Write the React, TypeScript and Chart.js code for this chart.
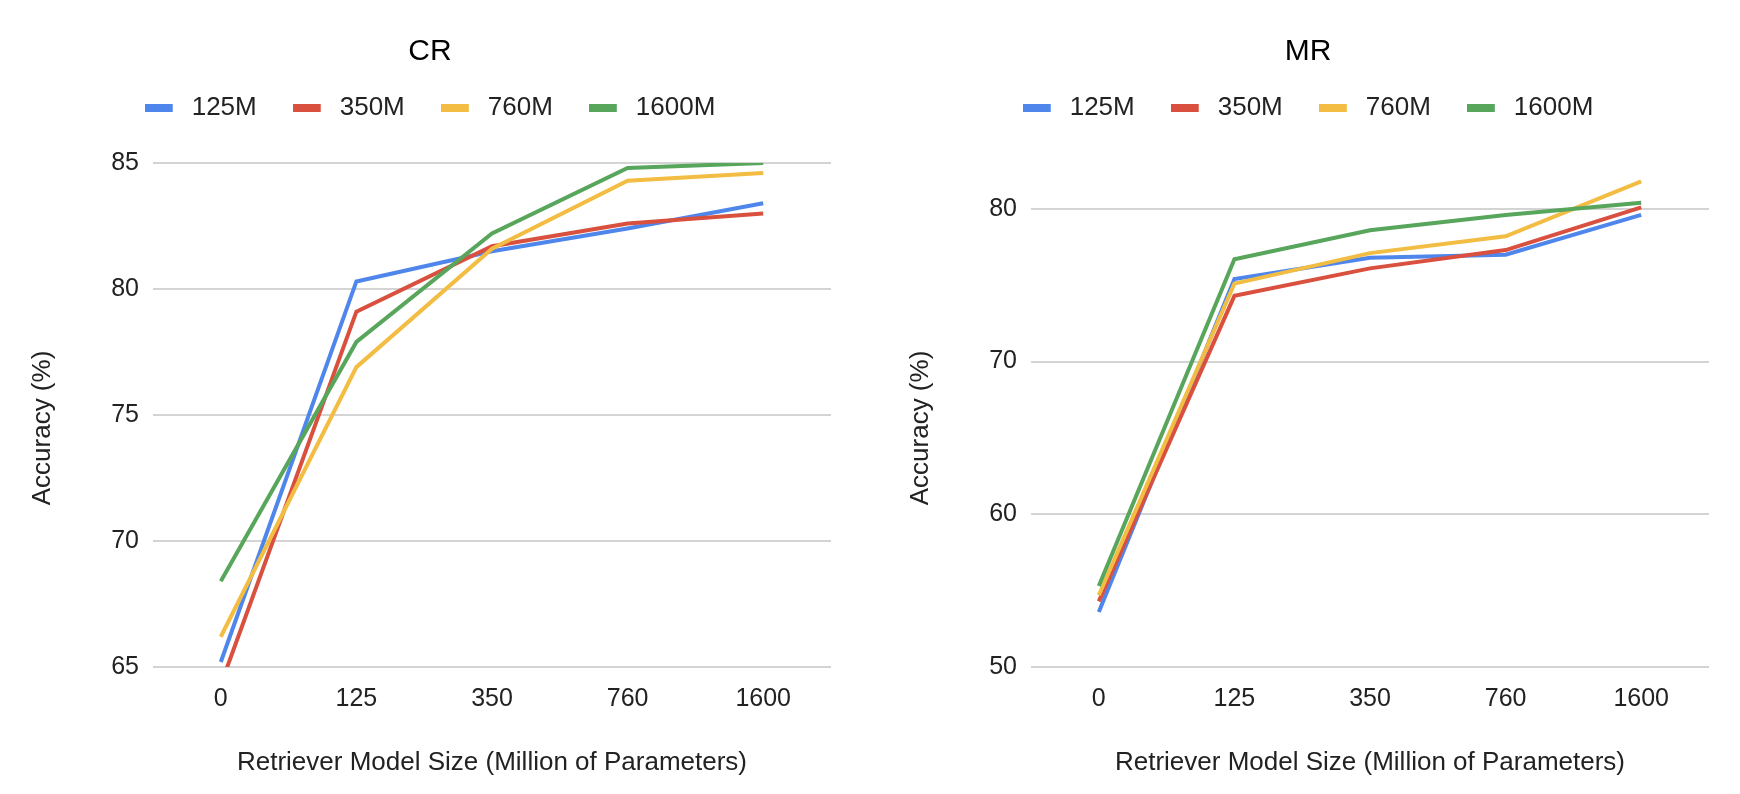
import { useEffect, useRef } from 'react';
import { Chart, registerables } from 'chart.js';
import type { Plugin } from 'chart.js';

Chart.register(...registerables);

const FONT = '"Liberation Sans", Arial, sans-serif';

const categories = ['0', '125', '350', '760', '1600'];
const seriesNames = ['125M', '350M', '760M', '1600M'];
const seriesColors = ['#4f86ec', '#d9503f', '#f2bd42', '#58a55c'];

// CR accuracy per retriever size, one array per LM size
const cr125 = [65.2, 80.3, 81.5, 82.4, 83.4];
const cr350 = [64.3, 79.1, 81.7, 82.6, 83.0];
const cr760 = [66.2, 76.9, 81.6, 84.3, 84.6];
const cr1600 = [68.4, 77.9, 82.2, 84.8, 85.0];

// MR accuracy
const mr125 = [53.6, 75.4, 76.8, 77.0, 79.6];
const mr350 = [54.3, 74.3, 76.1, 77.3, 80.1];
const mr760 = [54.7, 75.1, 77.1, 78.2, 81.8];
const mr1600 = [55.3, 76.7, 78.6, 79.6, 80.4];

const Y_TITLE = 'Accuracy (%)';

// legend swatch: a flat bar with some empty room on its right,
// so the label sits a bit further from the colour like in Google Charts
function legendSwatch(color: string): HTMLCanvasElement {
  const c = document.createElement('canvas');
  c.width = 34;
  c.height = 8;
  const ctx = c.getContext('2d')!;
  ctx.fillStyle = color;
  ctx.fillRect(0, 0, 28, 8);
  return c;
}

// Google puts the vertical axis title a little below the plot's middle,
// Chart.js would centre it, so it is drawn here instead.
const yTitlePlugin: Plugin<'line'> = {
  id: 'yTitle',
  afterDraw(chart) {
    const { ctx, chartArea } = chart;
    ctx.save();
    ctx.translate(43, (chartArea.top + chartArea.bottom) / 2 + 13);
    ctx.rotate(-Math.PI / 2);
    ctx.font = `26px ${FONT}`;
    ctx.fillStyle = '#222';
    ctx.textAlign = 'center';
    ctx.textBaseline = 'middle';
    ctx.fillText(Y_TITLE, 0, 0);
    ctx.restore();
  },
};

interface AccuracyChartProps {
  title: string;
  series: number[][];
  yMin: number;
  yMax: number;
  yStep: number;
}

function AccuracyChart({ title, series, yMin, yMax, yStep }: AccuracyChartProps) {
  const canvasRef = useRef<HTMLCanvasElement>(null);

  useEffect(() => {
    if (!canvasRef.current) return;
    const swatches = seriesColors.map(legendSwatch);
    const chart = new Chart(canvasRef.current, {
      type: 'line',
      data: {
        labels: categories,
        datasets: series.map((values, i) => ({
          label: seriesNames[i],
          data: values,
          borderColor: seriesColors[i],
          backgroundColor: seriesColors[i],
          borderWidth: 4,
          pointRadius: 0,
          tension: 0,
          // later series on top, like the original
          order: series.length - i,
        })),
      },
      plugins: [yTitlePlugin],
      options: {
        animation: false,
        responsive: true,
        maintainAspectRatio: false,
        events: [],
        layout: { padding: { left: 29, right: 31, top: 0, bottom: 0 } },
        plugins: {
          title: {
            display: true,
            text: title,
            color: '#000',
            font: { family: FONT, size: 30, weight: 'normal' },
            padding: { top: 34, bottom: -11 },
          },
          legend: {
            position: 'top',
            labels: {
              usePointStyle: true,
              pointStyleWidth: 34,
              boxHeight: 8,
              padding: 36,
              color: '#222',
              font: { family: FONT, size: 26 },
              generateLabels: (c: Chart) =>
                Chart.defaults.plugins.legend.labels.generateLabels(c).map((item) => ({
                  ...item,
                  lineWidth: 0,
                  pointStyle: swatches[item.datasetIndex ?? 0],
                })),
              sort: (a, b) => (a.datasetIndex ?? 0) - (b.datasetIndex ?? 0),
            },
          },
          tooltip: { enabled: false },
        },
        scales: {
          x: {
            offset: true,
            grid: { display: false },
            border: { display: false },
            ticks: { color: '#222', font: { family: FONT, size: 25 }, padding: 9 },
            title: {
              display: true,
              text: 'Retriever Model Size (Million of Parameters)',
              color: '#222',
              font: { family: FONT, size: 26 },
              padding: { top: 0, bottom: 16 },
            },
            afterFit: (scale) => {
              scale.height = 127;
            },
          },
          // empty axis on top: only keeps a gap between legend and plot
          gap: {
            type: 'category',
            position: 'top',
            grid: { display: false },
            border: { display: false },
            ticks: { display: false },
            afterFit: (scale) => {
              scale.height = 32;
            },
          },
          y: {
            min: yMin,
            max: yMax,
            ticks: {
              stepSize: yStep,
              includeBounds: false,
              color: '#222',
              font: { family: FONT, size: 25 },
              padding: 14,
            },
            grid: { color: '#d4d4d4', lineWidth: 2, drawTicks: false },
            border: { display: false },
            afterFit: (scale) => {
              scale.width = 124;
            },
          },
        },
      },
    });
    return () => chart.destroy();
  }, [title, series, yMin, yMax, yStep]);

  return <canvas ref={canvasRef} />;
}

const crSeries = [cr125, cr350, cr760, cr1600];
const mrSeries = [mr125, mr350, mr760, mr1600];

export default function App() {
  return (
    <div style={{ position: 'absolute', left: 0, top: 0, width: 1740, height: 794, background: '#fff' }}>
      <div style={{ position: 'absolute', left: 0, top: 0, width: 862, height: 794 }}>
        <AccuracyChart title="CR" series={crSeries} yMin={65} yMax={85} yStep={5} />
      </div>
      <div style={{ position: 'absolute', left: 878, top: 0, width: 862, height: 794 }}>
        <AccuracyChart title="MR" series={mrSeries} yMin={50} yMax={83} yStep={10} />
      </div>
    </div>
  );
}
